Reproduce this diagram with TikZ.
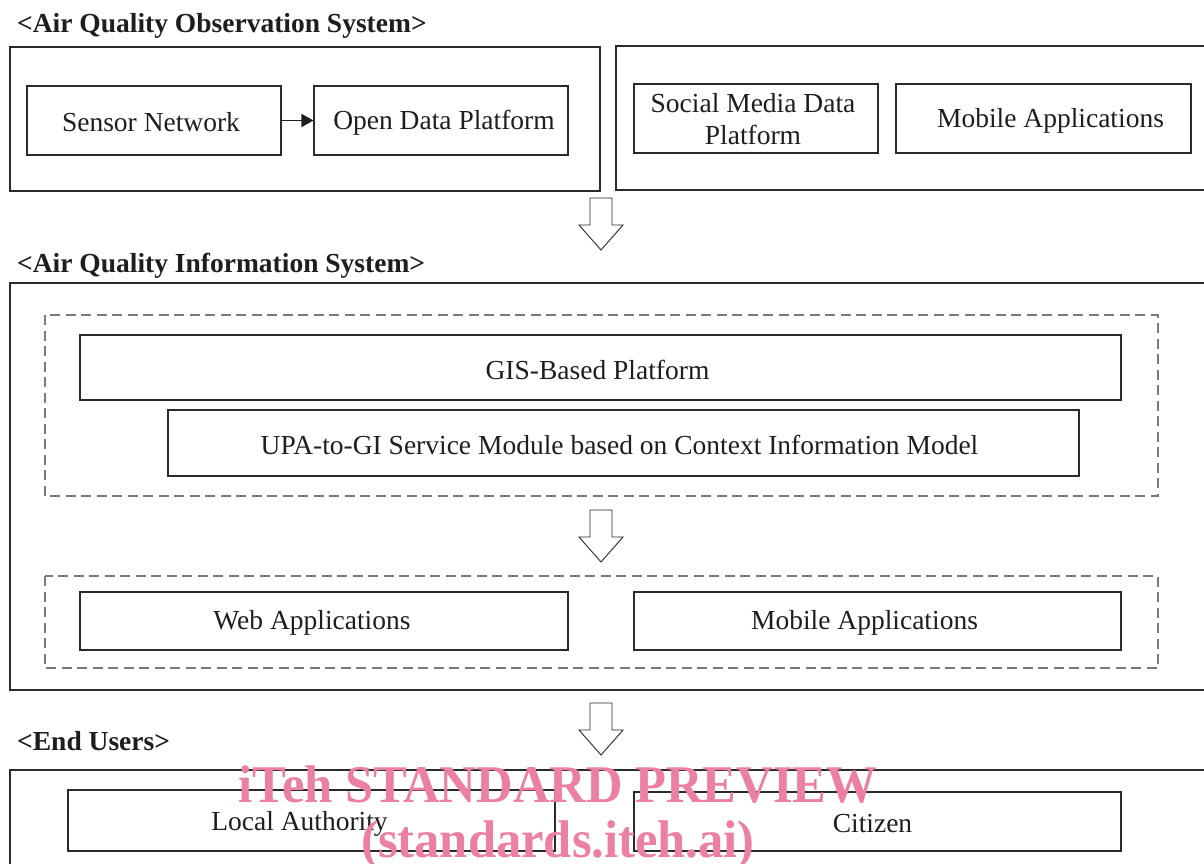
\documentclass[tikz,border=0pt]{standalone}
\usepackage{fontspec}
\setmainfont{Liberation Serif}
\usetikzlibrary{arrows.meta}
\definecolor{ink}{HTML}{1E1E1E}
\definecolor{boxline}{HTML}{2A2A2A}
\definecolor{dashline}{HTML}{7A7A7A}
\definecolor{wmark}{RGB}{236,128,164}
\tikzset{
  outerbox/.style={draw=boxline, line width=1.5pt},
  innerbox/.style={draw=boxline, line width=1.1pt, inner sep=0pt, text=ink, align=center},
  dashbox/.style={draw=dashline, line width=1.1pt, dash pattern=on 10pt off 5.5pt},
  title/.style={anchor=base west, inner sep=0pt, font=\bfseries\fontsize{27.5}{32}\selectfont, text=ink},
  lbl/.style={font=\fontsize{27.5}{32}\selectfont, text=ink, align=center, inner sep=0pt},
  blockarrow/.style={draw=boxline, line width=0.9pt, fill=white, line join=miter},
  wm/.style={font=\bfseries\fontsize{53}{60}\selectfont, text=wmark, inner sep=0pt, anchor=base, xscale=0.955}
}
\begin{document}
\begin{tikzpicture}[x=1pt,y=-1pt]
\clip (0,0) rectangle (1204,863);
\fill[white] (0,0) rectangle (1204,863);

% titles
\node[title] (t1) at (17,32) {<Air Quality Observation System>};
\node[title] (t2) at (17,272) {<Air Quality Information System>};
\node[title] (t3) at (17,750) {<End Users>};

% outer boxes
\draw[outerbox] (10,47) rectangle (600,191);
\draw[outerbox] (616,46) rectangle (1214,190);
\draw[outerbox] (10,283) rectangle (1214,690);
\draw[outerbox] (10,770) rectangle (1214,880);

% dashed groups
\draw[dashbox] (45,315) rectangle (1158,496);
\draw[dashbox] (45,576) rectangle (1158,668);

% observation system
\node[innerbox, minimum width=254pt, minimum height=69pt,
      label={[lbl,xshift=-3pt,yshift=-2pt]center:Sensor Network}] (sn) at (154,120.5) {};
\node[innerbox, minimum width=254pt, minimum height=69pt,
      label={[lbl,xshift=3pt,yshift=-2pt]center:Open Data Platform}] (odp) at (441,120.5) {};
\node[innerbox, minimum width=244pt, minimum height=69pt,
      label={[lbl,xshift=-3pt,yshift=-1pt]center:Social Media Data\\Platform}] (smd) at (756,118.5) {};
\node[innerbox, minimum width=295pt, minimum height=69pt,
      label={[lbl,xshift=7pt,yshift=-2pt]center:Mobile Applications}] (mob1) at (1043.5,118.5) {};
\draw[line width=1.6pt, draw=ink, -{Triangle[length=12pt,width=13pt]}] (sn.east) -- (odp.west);

% information system
\node[innerbox, minimum width=1041pt, minimum height=65pt,
      label={[lbl,xshift=-3pt,yshift=-2pt]center:GIS-Based Platform}] (gis) at (600.5,367.5) {};
\node[innerbox, minimum width=911pt, minimum height=66pt,
      label={[lbl,xshift=-4pt,yshift=-2pt]center:UPA-to-GI Service Module based on Context Information Model}] (upa) at (623.5,443) {};
\node[innerbox, minimum width=488pt, minimum height=58pt,
      label={[lbl,xshift=-12pt,yshift=-2pt]center:Web Applications}] (web) at (324,621) {};
\node[innerbox, minimum width=487pt, minimum height=58pt,
      label={[lbl,xshift=-13pt,yshift=-2pt]center:Mobile Applications}] (mob2) at (877.5,621) {};

% end users
\node[innerbox, minimum width=487pt, minimum height=61pt,
      label={[lbl,xshift=-12pt,yshift=-3pt]center:Local Authority}] (la) at (311.5,820.5) {};
\node[innerbox, minimum width=487pt, minimum height=59pt,
      label={[lbl,xshift=-5pt,yshift=-2pt]center:Citizen}] (cit) at (877.5,821.5) {};

% block arrows
\coordinate (a1) at (601,198);
\coordinate (a2) at (601,510);
\coordinate (a3) at (601,703);
\foreach \c in {a1,a2,a3}{
  \draw[blockarrow] (\c) ++(-11,0) -- ++(22,0) -- ++(0,27) -- ++(11,0)
     -- ++(-22,25) -- ++(-22,-25) -- ++(11,0) -- cycle;
}

% watermark
\node[wm] (w1) at (558,802) {iTeh STANDARD PREVIEW};
\node[wm] (w2) at (558,857) {(standards.iteh.ai)};
\end{tikzpicture}
\end{document}
